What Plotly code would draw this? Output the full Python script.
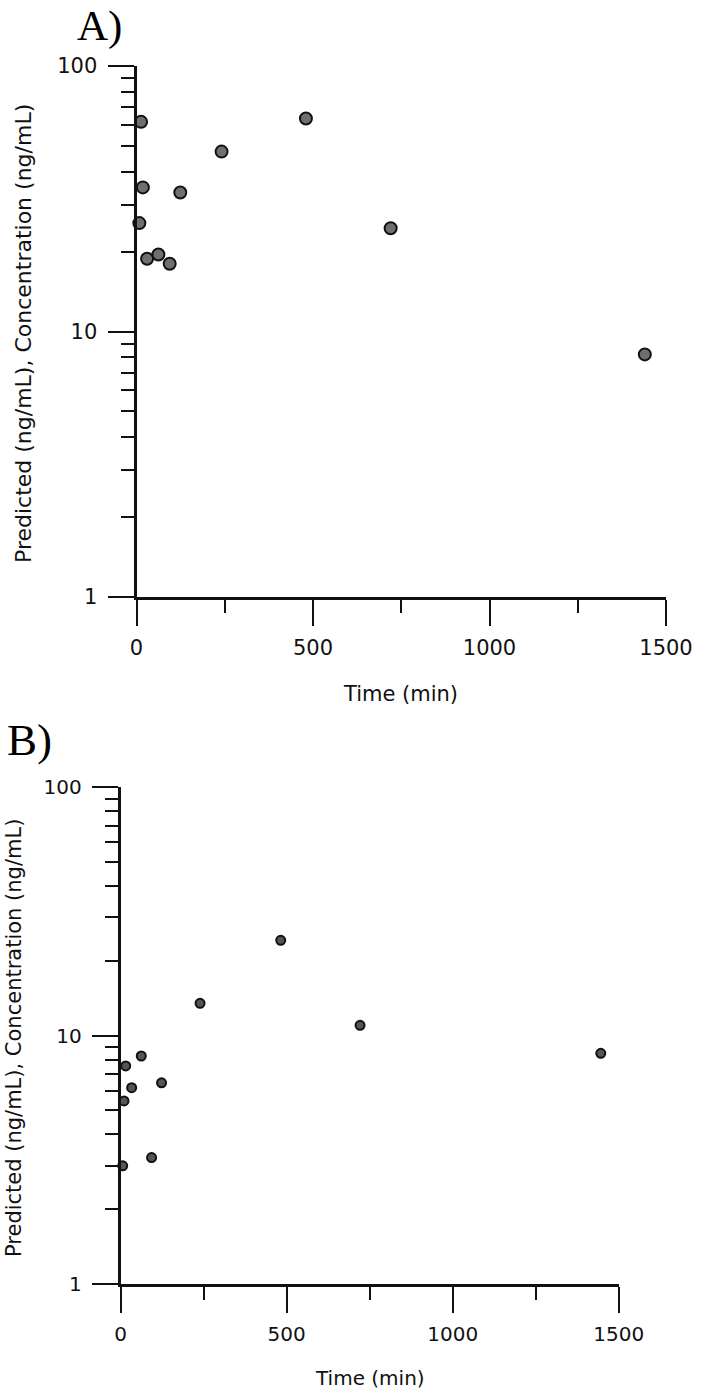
import plotly.graph_objects as go

# Panel A data
time_a = [8, 13, 18, 30, 62, 94, 124, 241, 480, 720, 1440]
conc_a = [25.6, 61.6, 34.9, 18.8, 19.5, 18.0, 33.4, 47.6, 63.4, 24.5, 8.2]

# Panel B data
time_b = [6, 10, 15, 33, 62, 93, 123, 239, 482, 721, 1446]
conc_b = [2.99, 5.46, 7.55, 6.17, 8.28, 3.23, 6.46, 13.5, 24.2, 11.0, 8.49]

x_ticks = [0, 500, 1000, 1500]
x_minor = [250, 750, 1250]
y_ticks = [1, 10, 100]
y_minor = [2, 3, 4, 5, 6, 7, 8, 9, 20, 30, 40, 50, 60, 70, 80, 90]

W, H = 701, 1395
FONT = "DejaVu Sans"
TXT = "#111111"

fig = go.Figure()
fig.add_trace(go.Scatter(
    x=time_a, y=conc_a, mode="markers", xaxis="x", yaxis="y",
    marker=dict(size=12, color="#6f6f6f", line=dict(color="#111111", width=2)),
    cliponaxis=False, showlegend=False, hoverinfo="skip"))
fig.add_trace(go.Scatter(
    x=time_b, y=conc_b, mode="markers", xaxis="x2", yaxis="y2",
    marker=dict(size=9, color="#555555", line=dict(color="#111111", width=2)),
    cliponaxis=False, showlegend=False, hoverinfo="skip"))


def xax(domain, anchor, size):
    return dict(domain=domain, anchor=anchor, range=[0, 1500], type="linear",
                automargin=False,
                showline=True, linecolor="#111", linewidth=3, showgrid=False, zeroline=False,
                ticks="outside", ticklen=26, tickwidth=2, tickcolor="#111",
                tickvals=x_ticks, ticktext=[str(v) for v in x_ticks],
                tickfont=dict(family=FONT, size=size, color=TXT),
                ticklabelstandoff=4,
                minor=dict(tickvals=x_minor, ticks="outside", ticklen=13, tickwidth=2,
                           tickcolor="#111", showgrid=False))


def yax(domain, anchor, size):
    return dict(domain=domain, anchor=anchor, type="log", range=[0, 2],
                automargin=False,
                showline=True, linecolor="#111", linewidth=3, showgrid=False, zeroline=False,
                ticks="outside", ticklen=26, tickwidth=2, tickcolor="#111",
                tickvals=y_ticks, ticktext=[str(v) for v in y_ticks],
                tickfont=dict(family=FONT, size=size, color=TXT),
                ticklabelstandoff=6,
                minor=dict(tickvals=y_minor, ticks="outside", ticklen=13, tickwidth=2,
                           tickcolor="#111", showgrid=False))


fig.update_layout(
    template="none",
    width=W, height=H, autosize=False,
    margin=dict(l=0, r=0, t=0, b=0, pad=0),
    paper_bgcolor="white", plot_bgcolor="white",
    xaxis=xax([136.5 / W, 666 / W], "y", 21),
    yaxis=yax([1 - 597 / H, 1 - 66 / H], "x", 21),
    xaxis2=xax([120.7 / W, 618.7 / W], "y2", 20),
    yaxis2=yax([1 - 1284 / H, 1 - 787.3 / H], "x2", 20),
)

ann = [
    dict(text="A)", x=75 / W, y=1.0, xanchor="left", yanchor="top",
         font=dict(family="Liberation Serif", size=43, color="#000")),
    dict(text="B)", x=5 / W, y=1 - 757 / H, xanchor="left", yanchor="bottom",
         font=dict(family="Liberation Serif", size=45, color="#000"), yshift=-10),
    dict(text="Time (min)", x=401 / W, y=1 - 694 / H, xanchor="center", yanchor="middle",
         font=dict(family=FONT, size=21, color=TXT)),
    dict(text="Time (min)", x=370 / W, y=1 - 1378 / H, xanchor="center", yanchor="middle",
         font=dict(family=FONT, size=20, color=TXT)),
    dict(text="Predicted (ng/mL), Concentration (ng/mL)", x=23 / W, y=1 - 334 / H,
         xanchor="center", yanchor="middle", textangle=-90,
         font=dict(family=FONT, size=22, color=TXT)),
    dict(text="Predicted (ng/mL), Concentration (ng/mL)", x=14 / W, y=1 - 1038 / H,
         xanchor="center", yanchor="middle", textangle=-90,
         font=dict(family=FONT, size=21, color=TXT)),
]
for a in ann:
    a.update(xref="paper", yref="paper", showarrow=False)
fig.update_layout(annotations=ann)

fig.write_html("out.html", config={"displayModeBar": False},
               post_script="document.body.style.margin='0';document.body.style.overflow='hidden';")
